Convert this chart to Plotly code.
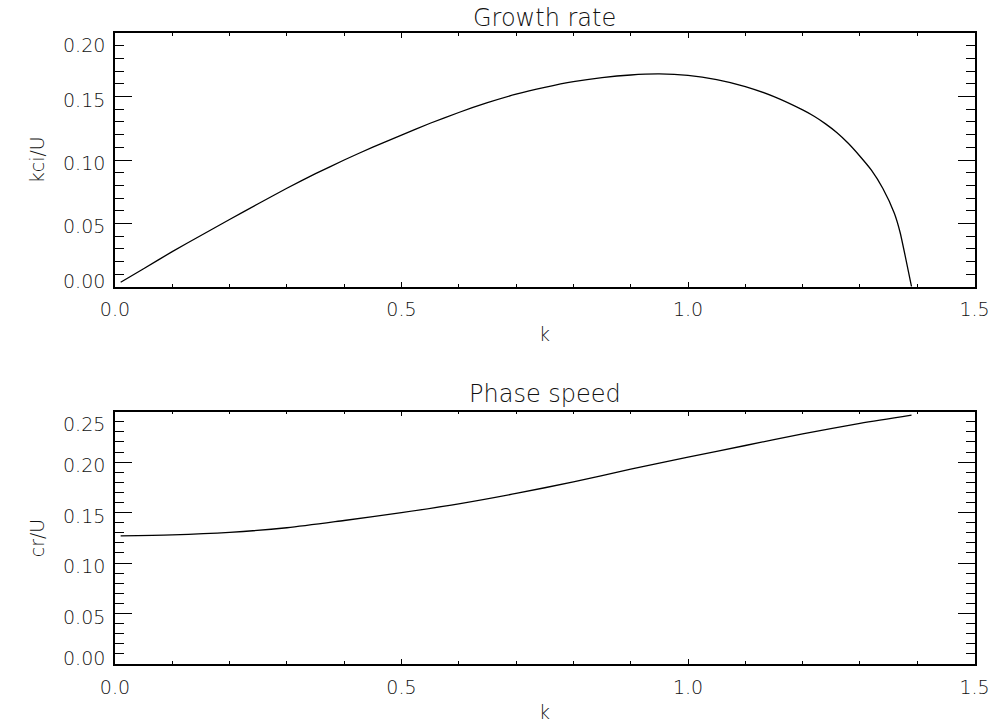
import plotly.graph_objects as go

# Growth rate kc_i/U versus wavenumber k
k_growth = [0.01, 0.05, 0.10, 0.15, 0.20, 0.25, 0.30, 0.35, 0.40, 0.45, 0.50,
            0.55, 0.60, 0.65, 0.70, 0.75, 0.80, 0.85, 0.90, 0.95, 1.00, 1.05,
            1.10, 1.15, 1.20, 1.22, 1.24, 1.26, 1.28, 1.30, 1.32, 1.34, 1.36,
            1.37, 1.39]
growth = [0.0035, 0.0142, 0.0277, 0.0404, 0.0530, 0.0655, 0.0777, 0.0892,
          0.1000, 0.1102, 0.1196, 0.1290, 0.1375, 0.1452, 0.1519, 0.1573,
          0.1618, 0.1650, 0.1671, 0.1679, 0.1668, 0.1635, 0.1580, 0.1500,
          0.1395, 0.1345, 0.1285, 0.1215, 0.1130, 0.1030, 0.0920, 0.0775,
          0.0580, 0.0430, 0.0000]

# Phase speed c_r/U versus wavenumber k
k_phase = [0.01, 0.10, 0.20, 0.30, 0.40, 0.50, 0.60, 0.70, 0.80, 0.90,
           1.00, 1.10, 1.20, 1.30, 1.39]
phase = [0.1270, 0.1280, 0.1305, 0.1350, 0.1422, 0.1500, 0.1587, 0.1690,
         0.1805, 0.1930, 0.2050, 0.2165, 0.2280, 0.2385, 0.2467]

x_ticks = [0.0, 0.5, 1.0, 1.5]
y_ticks_top = [0.00, 0.05, 0.10, 0.15, 0.20]
y_ticks_bottom = [0.00, 0.05, 0.10, 0.15, 0.20, 0.25]

FONT = "DejaVu Sans"
WEIGHT = 200
INK = "#111111"
W, H = 1008, 723
left_px, right_px = 103, 989
top_panel = (33.3, 286.7)
bottom_panel = (411.7, 664.0)


def ydom(p):
    return [1 - p[1] / H, 1 - p[0] / H]


def font(size):
    return dict(family=FONT, size=size, color=INK, weight=WEIGHT)


fig = go.Figure()
fig.add_trace(go.Scatter(x=k_growth, y=growth, mode="lines",
                         line=dict(color="black", width=1.3, shape="spline",
                                   smoothing=0.5),
                         xaxis="x", yaxis="y", showlegend=False))
fig.add_trace(go.Scatter(x=k_phase, y=phase, mode="lines",
                         line=dict(color="black", width=1.3, shape="spline",
                                   smoothing=0.8),
                         xaxis="x2", yaxis="y2", showlegend=False))

xdom = [left_px / W, right_px / W]
common_x = dict(domain=xdom, range=[0, 1.5], tickvals=x_ticks,
                ticktext=[f"{v:.1f}" for v in x_ticks],
                ticks="inside", ticklen=5, tickwidth=1, tickcolor="black",
                minor=dict(dtick=0.1, tick0=0, ticks="inside", ticklen=3,
                           tickwidth=1, tickcolor="black"),
                showline=True, linecolor="black", linewidth=1.5, mirror="ticks",
                showgrid=False, zeroline=False,
                tickfont=font(19), ticklabelstandoff=5)
common_y = dict(dtick=0.05, tick0=0, ticks="inside", ticklen=17, tickwidth=1,
                tickcolor="black",
                minor=dict(dtick=0.01, tick0=0, ticks="inside", ticklen=9,
                           tickwidth=1, tickcolor="black"),
                showline=True, linecolor="black", linewidth=1.5, mirror="ticks",
                showgrid=False, zeroline=False, showticklabels=False)

fig.update_layout(
    width=W, height=H, margin=dict(l=0, r=0, t=0, b=0),
    paper_bgcolor="white", plot_bgcolor="white",
    xaxis=dict(anchor="y", **common_x),
    yaxis=dict(anchor="x", domain=ydom(top_panel), range=[0, 0.2], **common_y),
    xaxis2=dict(anchor="y2", **common_x),
    yaxis2=dict(anchor="x2", domain=ydom(bottom_panel), range=[0, 0.25], **common_y),
)

annotations = []


def y_labels(values, yref):
    n = len(values)
    for i, v in enumerate(values):
        if i == 0:
            shift = 6
        elif i == n - 1:
            shift = -12
        else:
            shift = -3
        annotations.append(dict(x=95 / W, xref="paper", xanchor="right",
                                y=v, yref=yref, yanchor="middle", yshift=shift,
                                text=f"{v:.2f}", showarrow=False, font=font(19)))


y_labels(y_ticks_top, "y")
y_labels(y_ticks_bottom, "y2")

xc = (left_px + right_px) / 2 / W
for text, ypx in [("Growth rate", 17.5), ("Phase speed", 394)]:
    annotations.append(dict(x=xc, xref="paper", y=1 - ypx / H, yref="paper",
                            xanchor="center", yanchor="middle", text=text,
                            showarrow=False, font=font(24)))
for ypx in [334, 712]:
    annotations.append(dict(x=xc, xref="paper", y=1 - ypx / H, yref="paper",
                            xanchor="center", yanchor="middle", text="k",
                            showarrow=False, font=font(19)))
for text, ypx in [("kci/U", 160), ("cr/U", 538)]:
    annotations.append(dict(x=23 / W, xref="paper", y=1 - ypx / H, yref="paper",
                            xanchor="center", yanchor="middle", text=text,
                            textangle=-90, showarrow=False, font=font(19)))

fig.update_layout(annotations=annotations)
fig.write_html("out.html")
